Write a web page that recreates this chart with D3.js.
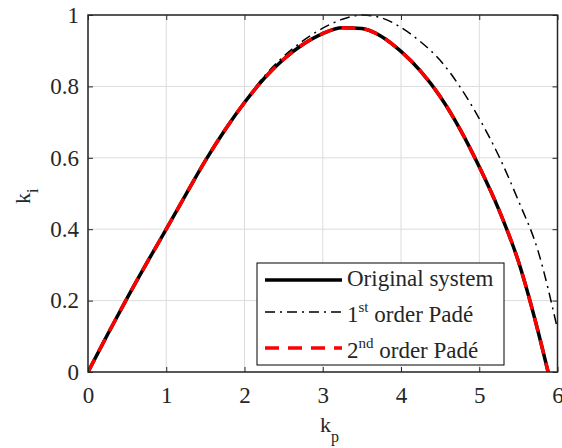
<!DOCTYPE html>
<html>
<head>
<meta charset="utf-8">
<script src="https://cdn.jsdelivr.net/npm/d3@7"></script>
</head>
<body style="margin:0;padding:0;background:#fff">
<svg id="chart" width="562" height="448" style="display:block"></svg>
<script>
// ---- data ----
const xTicks = [0, 1, 2, 3, 4, 5, 6];
const yTicks = [0, 0.2, 0.4, 0.6, 0.8, 1];
const yTickLabels = ["0", "0.2", "0.4", "0.6", "0.8", "1"];

const kpOriginal = [0, 0.25, 0.5, 0.75, 1.0, 1.25, 1.5, 1.75, 2.0, 2.25, 2.5, 2.75, 3.0, 3.25, 3.5, 3.75, 4.0, 4.25, 4.5, 4.75, 5.0, 5.25, 5.5, 5.75, 5.88];
const kiOriginal = [0, 0.105, 0.207, 0.305, 0.4, 0.497, 0.592, 0.678, 0.755, 0.822, 0.876, 0.918, 0.948, 0.964, 0.962, 0.94, 0.898, 0.843, 0.772, 0.682, 0.575, 0.455, 0.31, 0.115, 0];

const kpPade1 = [0, 0.25, 0.5, 0.75, 1.0, 1.25, 1.5, 1.75, 2.0, 2.25, 2.5, 2.75, 3.0, 3.25, 3.5, 3.75, 4.0, 4.25, 4.5, 4.75, 5.0, 5.25, 5.5, 5.75, 6.0];
const kiPade1 = [0, 0.105, 0.207, 0.305, 0.4, 0.497, 0.592, 0.678, 0.756, 0.828, 0.884, 0.928, 0.963, 0.988, 1.0, 0.992, 0.965, 0.925, 0.873, 0.8, 0.71, 0.605, 0.48, 0.34, 0.12];

const kpPade2 = kpOriginal.slice();
const kiPade2 = kiOriginal.slice();

// ---- layout ----
const FONT = "Liberation Serif";
const TXT = "#262626";
const pLeft = 88, pRight = 557.5, pTop = 15, pBottom = 372;
const svg = d3.select("#chart").attr("font-family", FONT);
const x = d3.scaleLinear().domain([0, 6]).range([pLeft, pRight]);
const y = d3.scaleLinear().domain([0, 1]).range([pBottom, pTop]);

// grid
const grid = svg.append("g");
grid.selectAll("line.gx").data(xTicks).join("line").attr("class", "gx")
  .attr("x1", d => x(d)).attr("x2", d => x(d))
  .attr("y1", pTop).attr("y2", pBottom)
  .attr("stroke", "#dcdcdc").attr("stroke-width", 1);
grid.selectAll("line.gy").data(yTicks).join("line").attr("class", "gy")
  .attr("y1", d => y(d)).attr("y2", d => y(d))
  .attr("x1", pLeft).attr("x2", pRight)
  .attr("stroke", "#dcdcdc").attr("stroke-width", 1);

// clip
svg.append("defs").append("clipPath").attr("id", "clip")
  .append("rect").attr("x", pLeft).attr("y", pTop - 2).attr("width", pRight - pLeft).attr("height", pBottom - pTop + 2);

const line = d3.line().curve(d3.curveMonotoneX);
const toPts = (xs, ys) => xs.map((v, i) => [x(v), y(ys[i])]);

const plot = svg.append("g").attr("clip-path", "url(#clip)");
plot.append("path").attr("d", line(toPts(kpOriginal, kiOriginal)))
  .attr("fill", "none").attr("stroke", "#000").attr("stroke-width", 3.5);
plot.append("path").attr("d", line(toPts(kpPade1, kiPade1)))
  .attr("fill", "none").attr("stroke", "#000").attr("stroke-width", 1.5)
  .attr("stroke-dasharray", "10,5,2,5");
plot.append("path").attr("d", line(toPts(kpPade2, kiPade2)))
  .attr("fill", "none").attr("stroke", "#ff0000").attr("stroke-width", 3.5)
  .attr("stroke-dasharray", "14,9");

// axes (inward ticks)
const fs = 23;
const xAxis = svg.append("g").attr("transform", `translate(0,${pBottom})`)
  .call(d3.axisBottom(x).tickValues(xTicks).tickSize(-5).tickPadding(15).tickFormat(d3.format("d")));
const xAxisTop = svg.append("g").attr("transform", `translate(0,${pTop})`)
  .call(d3.axisTop(x).tickValues(xTicks).tickSize(-5).tickFormat(""));
const yAxis = svg.append("g").attr("transform", `translate(${pLeft},0)`)
  .call(d3.axisLeft(y).tickValues(yTicks).tickSize(-5).tickPadding(9).tickFormat((d, i) => yTickLabels[i]));
const yAxisR = svg.append("g").attr("transform", `translate(${pRight},0)`)
  .call(d3.axisRight(y).tickValues(yTicks).tickSize(-5).tickFormat(""));
[xAxis, xAxisTop, yAxis, yAxisR].forEach(g => {
  g.attr("font-family", FONT).attr("font-size", fs);
  g.select(".domain").remove();
  g.selectAll(".tick line").attr("stroke", TXT).attr("stroke-width", 1);
  g.selectAll(".tick text").attr("font-family", FONT).attr("font-size", fs).attr("fill", TXT);
});

// frame
svg.append("rect").attr("x", pLeft).attr("y", pTop).attr("width", pRight - pLeft).attr("height", pBottom - pTop)
  .attr("fill", "none").attr("stroke", TXT).attr("stroke-width", 1.5);

// axis labels
const xl = svg.append("text").attr("x", 320).attr("y", 432).attr("font-size", 22)
  .attr("font-family", FONT).attr("fill", TXT);
xl.append("tspan").text("k");
xl.append("tspan").attr("font-size", 16).attr("dy", 10).text("p");

const yl = svg.append("text").attr("transform", "translate(30,204) rotate(-90)").attr("font-size", 22)
  .attr("font-family", FONT).attr("fill", TXT);
yl.append("tspan").text("k");
yl.append("tspan").attr("font-size", 16).attr("dy", 8).text("i");

// legend
const lg = svg.append("g");
lg.append("rect").attr("x", 257).attr("y", 263).attr("width", 247).attr("height", 102)
  .attr("fill", "#fff").attr("stroke", "#000").attr("stroke-width", 1);
const rows = [
  { base: 286, ly: 280, stroke: "#000", w: 3.5, dash: null },
  { base: 322, ly: 312, stroke: "#000", w: 1.5, dash: "10,5,2,5" },
  { base: 358, ly: 348, stroke: "#ff0000", w: 3.5, dash: "14,9" }
];
rows.forEach(r => {
  const l = lg.append("line").attr("x1", 265).attr("x2", 342).attr("y1", r.ly).attr("y2", r.ly)
    .attr("stroke", r.stroke).attr("stroke-width", r.w);
  if (r.dash) l.attr("stroke-dasharray", r.dash);
});
lg.append("text").attr("x", 347).attr("y", rows[0].base).attr("font-size", fs)
  .attr("font-family", FONT).attr("fill", TXT).text("Original system");
const t1 = lg.append("text").attr("x", 347).attr("y", rows[1].base).attr("font-size", fs)
  .attr("font-family", FONT).attr("fill", TXT);
t1.append("tspan").text("1");
t1.append("tspan").attr("font-size", 15).attr("dy", -10).text("st");
t1.append("tspan").attr("dy", 10).text(" order Padé");
const t2 = lg.append("text").attr("x", 347).attr("y", rows[2].base).attr("font-size", fs)
  .attr("font-family", FONT).attr("fill", TXT);
t2.append("tspan").text("2");
t2.append("tspan").attr("font-size", 15).attr("dy", -10).text("nd");
t2.append("tspan").attr("dy", 10).text(" order Padé");
</script>
</body>
</html>
